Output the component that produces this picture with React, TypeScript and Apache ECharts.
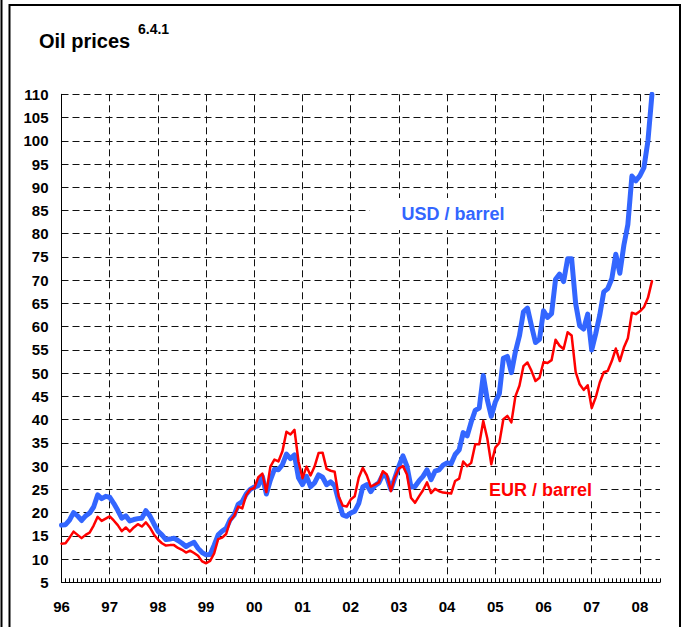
import React, { useEffect, useRef } from "react";
import * as echarts from "echarts";

// Year tick labels (January of each year)
const yearLabels = ["96", "97", "98", "99", "00", "01", "02", "03", "04", "05", "06", "07", "08"];

// Monthly oil prices, Jan 1996 – Apr 2008, USD per barrel
const usdPerBarrel = [
  17.3, 17.4, 18.4, 20.0, 19.3, 18.3, 19.3, 19.9, 21.2, 23.8, 23.0, 23.5,
  23.3, 22.0, 20.5, 18.8, 19.3, 18.2, 18.5, 18.7, 18.8, 20.4, 19.3, 17.6,
  16.0, 15.2, 14.2, 14.3, 14.5, 14.0, 13.4, 12.7, 13.2, 13.6, 12.3, 11.4,
  10.9, 11.0, 13.0, 15.2, 16.0, 16.6, 18.5, 19.5, 21.8, 22.4, 24.0, 25.0,
  25.5, 25.8, 27.8, 24.0, 27.0, 29.3, 29.2, 30.3, 32.6, 31.6, 32.4, 27.5,
  26.0, 27.8, 25.6, 26.4, 28.1, 27.6, 26.0, 26.6, 25.8, 22.5, 19.5, 19.2,
  19.9, 20.3, 22.0, 25.5, 26.0, 24.5, 25.8, 26.4, 28.2, 27.6, 25.0, 27.5,
  30.0, 32.2, 30.0, 25.5, 25.6, 26.8, 27.8, 29.2, 27.1, 28.9, 29.2, 30.2,
  30.7, 30.5, 32.5, 33.5, 37.2, 36.5, 39.5, 42.0, 42.5, 49.5, 44.3, 40.7,
  43.8, 45.6, 53.2, 53.6, 50.1, 54.6, 58.0, 63.2, 64.0, 60.2, 56.6, 57.3,
  63.4, 62.0, 62.8, 70.2, 71.3, 69.7, 74.6, 74.6, 65.0, 60.2, 59.5, 62.7,
  55.0, 58.5, 62.5, 67.5, 68.2, 70.3, 75.6, 71.5, 77.5, 82.0, 92.4, 91.4,
  92.5, 94.2, 100.0, 110.0,
];

// Monthly oil prices, Jan 1996 – Apr 2008, EUR per barrel
const eurPerBarrel = [
  13.3, 13.4, 14.6, 15.9, 15.2, 14.5, 15.2, 15.7, 17.2, 19.1, 18.2, 18.7,
  19.2, 18.3, 17.3, 16.0, 16.8, 15.9, 16.8, 17.5, 17.0, 17.9, 16.8, 15.3,
  14.2, 13.4, 12.9, 13.0, 13.0, 12.4, 12.0, 11.4, 11.8, 11.3, 10.7, 9.5,
  9.1, 9.6, 11.2, 14.3, 14.6, 15.4, 18.2, 19.3, 21.3, 20.9, 23.8, 25.0,
  25.3, 27.6, 28.4, 24.4, 29.9, 31.4, 31.0, 33.2, 37.4, 36.8, 37.8, 31.0,
  27.4, 29.9, 28.0, 29.9, 32.8, 32.9, 29.4, 29.0, 28.8, 23.5, 21.5, 21.3,
  22.8, 23.5, 27.5, 29.6, 28.0, 25.6, 26.0, 26.5, 28.9, 28.2, 24.6, 27.6,
  29.5, 30.0, 28.2, 23.2, 22.1, 23.5, 24.8, 26.5, 24.2, 25.1, 24.6, 24.3,
  24.2, 24.1, 26.8, 27.3, 31.0, 30.0, 30.7, 34.7, 34.7, 39.7, 36.0, 30.4,
  34.0, 35.0, 40.1, 40.8, 39.4, 45.0, 47.3, 51.5, 52.3, 50.5, 48.3, 49.0,
  52.4, 52.2, 52.8, 57.2, 55.9, 55.2, 58.8, 58.1, 50.3, 47.6, 46.4, 47.4,
  42.5, 44.8, 48.0, 50.2, 50.5, 52.6, 55.3, 52.6, 55.5, 57.5, 63.0, 62.7,
  63.3, 64.2, 66.2, 69.8,
];

const yMin = 5;
const yMax = 110;
const yStep = 5;
const monthsOnAxis = 150; // Jan 1996 .. Jun 2008 (axis runs a little past the data)

const titleText = "Oil prices";
const titleSup = "6.4.1";
const usdLabel = "USD / barrel";
const eurLabel = "EUR / barrel";

const FONT = '"Liberation Sans", Arial, Helvetica, sans-serif';

export default function App() {
  const ref = useRef<HTMLDivElement>(null);

  useEffect(() => {
    if (!ref.current) return;
    const chart = echarts.init(ref.current, null, { renderer: "svg" });

    const categories: string[] = [];
    for (let y = 0; y < yearLabels.length; y++) {
      for (let m = 1; m <= 12; m++) {
        categories.push(yearLabels[y] + "-" + m);
      }
    }
    const cats = categories.slice(0, monthsOnAxis);
    const isYearStart = (idx: number) => idx % 12 === 0;

    chart.setOption({
      animation: false,
      backgroundColor: "#ffffff",
      grid: { left: 61.5, right: 22, top: 94.3, height: 488, containLabel: false },
      xAxis: {
        type: "category",
        data: cats,
        boundaryGap: false,
        axisLine: { show: true, lineStyle: { color: "#000", width: 1 } },
        axisTick: {
          show: true,
          inside: true,
          length: 4,
          interval: 0,
          lineStyle: { color: "#000", width: 1 },
        },
        axisLabel: {
          show: true,
          interval: (idx: number) => isYearStart(idx),
          formatter: (val: string) => val.split("-")[0],
          margin: 17,
          color: "#000",
          fontWeight: "bold",
          fontSize: 15,
          fontFamily: FONT,
        },
        splitLine: {
          show: true,
          interval: (idx: number) => isYearStart(idx),
          lineStyle: { color: "#111", width: 1, type: [7, 4] },
        },
      },
      yAxis: {
        type: "value",
        min: yMin,
        max: yMax,
        interval: yStep,
        axisLine: { show: true, lineStyle: { color: "#000", width: 1 } },
        axisTick: { show: false },
        axisLabel: {
          margin: 13,
          color: "#000",
          fontWeight: "bold",
          fontSize: 15,
          fontFamily: FONT,
        },
        splitLine: {
          show: true,
          lineStyle: { color: "#111", width: 1, type: [7, 4] },
        },
      },
      series: [
        {
          name: usdLabel,
          type: "line",
          data: usdPerBarrel,
          showSymbol: false,
          symbol: "none",
          lineStyle: { color: "#3366ff", width: 5, join: "round", cap: "round" },
          z: 2,
        },
        {
          name: eurLabel,
          type: "line",
          data: eurPerBarrel,
          showSymbol: false,
          symbol: "none",
          lineStyle: { color: "#ff0000", width: 2.5, join: "round", cap: "round" },
          z: 3,
        },
      ],
      graphic: [
        {
          type: "rect",
          shape: { x: 9.5, y: 5, width: 670.5, height: 640 },
          style: { fill: "none", stroke: "#000", lineWidth: 2 },
          silent: true,
        },
        {
          type: "line",
          shape: { x1: 1.5, y1: 0, x2: 1.5, y2: 627 },
          style: { stroke: "#000", lineWidth: 2 },
          silent: true,
        },
        {
          type: "text",
          style: {
            text: titleText,
            x: 39,
            y: 41,
            font: "bold 20px " + FONT,
            fill: "#000",
            align: "left",
            verticalAlign: "middle",
          },
        },
        {
          type: "text",
          style: {
            text: titleSup,
            x: 138,
            y: 29,
            font: "bold 14px " + FONT,
            fill: "#000",
            align: "left",
            verticalAlign: "middle",
          },
        },
        {
          type: "text",
          z: 10,
          style: {
            text: usdLabel,
            x: 369.5,
            y: 214,
            font: "bold 18px " + FONT,
            fill: "#3366ff",
            align: "left",
            verticalAlign: "middle",
            backgroundColor: "#ffffff",
            padding: [7, 36, 7, 32],
          },
        },
        {
          type: "text",
          z: 10,
          style: {
            text: eurLabel,
            x: 487,
            y: 490,
            font: "bold 18px " + FONT,
            fill: "#ff0000",
            align: "left",
            verticalAlign: "middle",
            backgroundColor: "#ffffff",
            padding: [2, 6, 2, 2],
          },
        },
      ],
    });

    return () => chart.dispose();
  }, []);

  return (
    <div
      ref={ref}
      style={{ position: "fixed", left: 0, top: 0, width: 682, height: 627, background: "#fff" }}
    />
  );
}
